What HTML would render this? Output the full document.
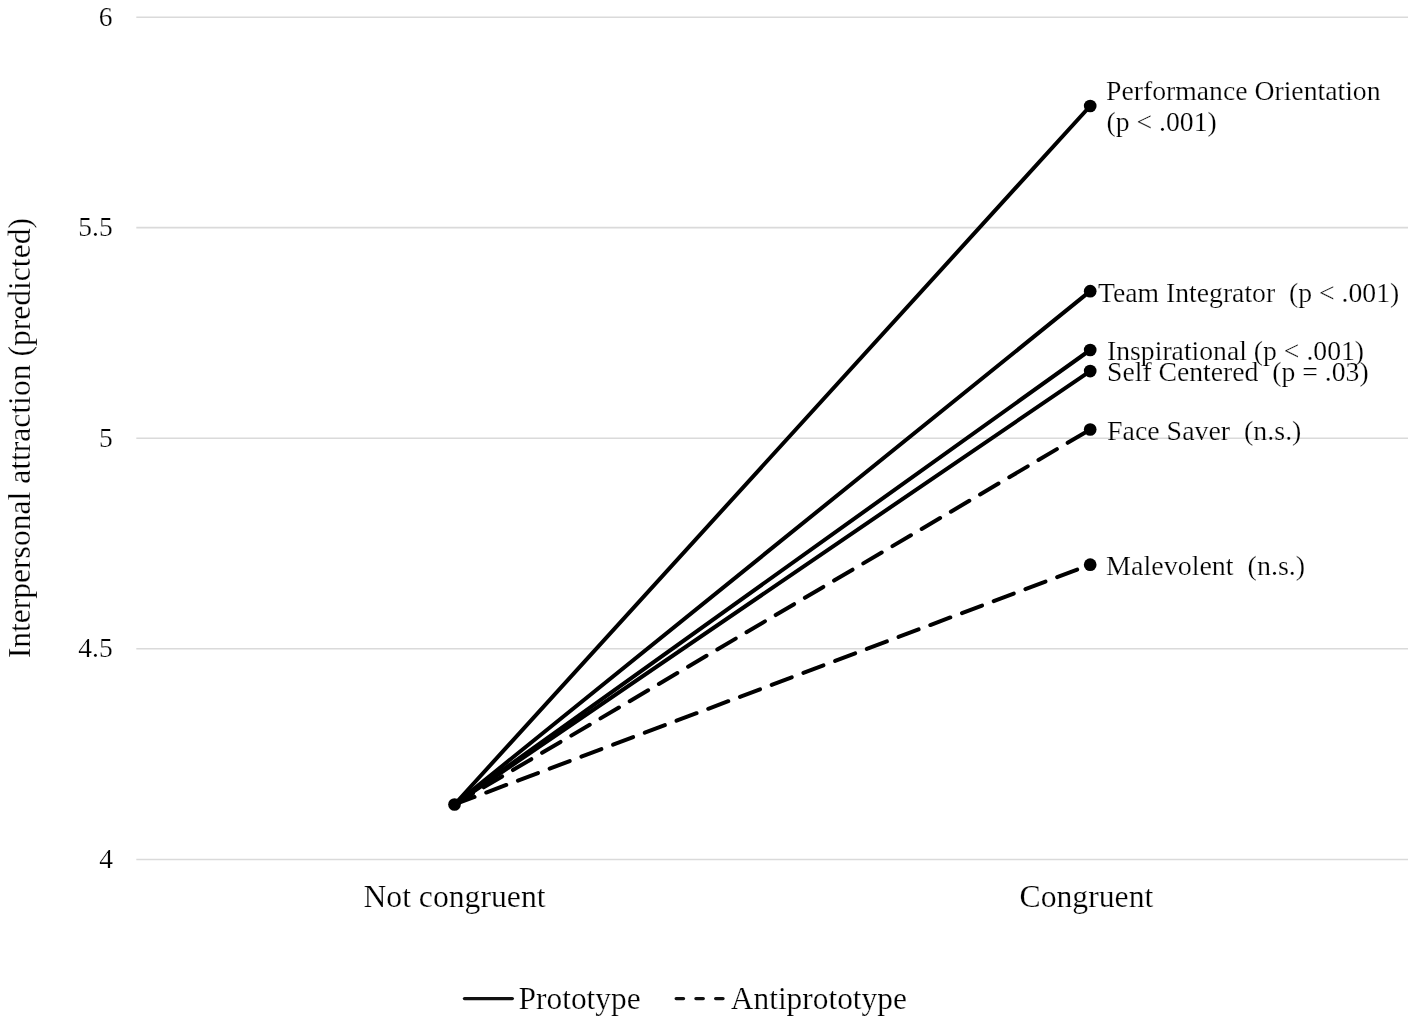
<!DOCTYPE html>
<html lang="en"><head><meta charset="utf-8"><title>Interpersonal attraction (predicted)</title>
<style>
html,body{margin:0;padding:0;background:#fff;}
body{width:1418px;height:1024px;overflow:hidden;}
svg{display:block;}
text{font-family:"Liberation Serif","Times New Roman",serif;fill:#000;white-space:pre;stroke:#fff;stroke-width:0.22px;paint-order:fill stroke;}
</style></head><body>
<svg width="1418" height="1024" viewBox="0 0 1418 1024">
<rect width="1418" height="1024" fill="#fff"/>

<g stroke="#dadada" stroke-width="1.6">
<line x1="136.3" y1="17.2" x2="1408" y2="17.2"/>
<line x1="136.3" y1="227.6" x2="1408" y2="227.6"/>
<line x1="136.3" y1="438.2" x2="1408" y2="438.2"/>
<line x1="136.3" y1="648.8" x2="1408" y2="648.8"/>
<line x1="136.3" y1="859.5" x2="1408" y2="859.5"/>
</g>
<text x="112.5" y="26.4" font-size="27.5" text-anchor="end">6</text>
<text x="112.7" y="236.4" font-size="27.5" text-anchor="end">5.5</text>
<text x="112.7" y="447.3" font-size="27.5" text-anchor="end">5</text>
<text x="112.7" y="657.3" font-size="27.5" text-anchor="end">4.5</text>
<text x="113.1" y="867.8" font-size="27.5" text-anchor="end">4</text>
<g stroke="#000" stroke-width="4" stroke-linecap="round" fill="none">
<line x1="454.5" y1="804.5" x2="1090.2" y2="106.0"/>
<line x1="454.5" y1="804.5" x2="1090.2" y2="291.15"/>
<line x1="454.5" y1="804.5" x2="1090.2" y2="350.0"/>
<line x1="454.5" y1="804.5" x2="1090.2" y2="371.1"/>
<line x1="454.5" y1="804.5" x2="1090.2" y2="429.5" stroke-dasharray="21.4 12.5"/>
<line x1="454.5" y1="804.5" x2="1090.2" y2="564.7" stroke-dasharray="21.4 12.5"/>
</g>
<g fill="#000">
<circle cx="454.5" cy="804.5" r="6.35"/>
<circle cx="1090.2" cy="106.0" r="6.35"/>
<circle cx="1090.2" cy="291.15" r="6.35"/>
<circle cx="1090.2" cy="350.0" r="6.35"/>
<circle cx="1090.2" cy="371.1" r="6.35"/>
<circle cx="1090.2" cy="429.5" r="6.35"/>
<circle cx="1090.2" cy="564.7" r="6.35"/>
</g>
<text x="1106.1" y="100.3" font-size="27.7" xml:space="preserve">Performance Orientation</text>
<text x="1106.5" y="130.9" font-size="27.7" xml:space="preserve">(p &lt; .001)</text>
<text x="1098" y="301.8" font-size="27.7" xml:space="preserve">Team Integrator  (p &lt; .001)</text>
<text x="1107" y="360" font-size="27.7" xml:space="preserve">Inspirational (p &lt; .001)</text>
<text x="1107" y="381" font-size="27.7" xml:space="preserve">Self Centered  (p = .03)</text>
<text x="1107" y="440.1" font-size="27.9" xml:space="preserve">Face Saver  (n.s.)</text>
<text x="1106.1" y="574.5" font-size="28.0" xml:space="preserve">Malevolent  (n.s.)</text>
<text x="454.5" y="906.9" font-size="31.7" text-anchor="middle">Not congruent</text>
<text x="1086.4" y="906.7" font-size="31.7" text-anchor="middle">Congruent</text>
<text transform="translate(29.8,438.2) rotate(-90)" font-size="31.6" text-anchor="middle">Interpersonal attraction (predicted)</text>
<g stroke="#111" stroke-width="3.4" fill="none">
<line x1="464.5" y1="998.6" x2="512.3" y2="998.6" stroke-linecap="round"/>
<line x1="676.2" y1="998.6" x2="724" y2="998.6" stroke-dasharray="7.3 12.45" stroke-linecap="round"/>
</g>
<text x="518.6" y="1008.9" font-size="31.4">Prototype</text>
<text x="730.8" y="1008.7" font-size="31.4">Antiprototype</text>
</svg></body></html>
